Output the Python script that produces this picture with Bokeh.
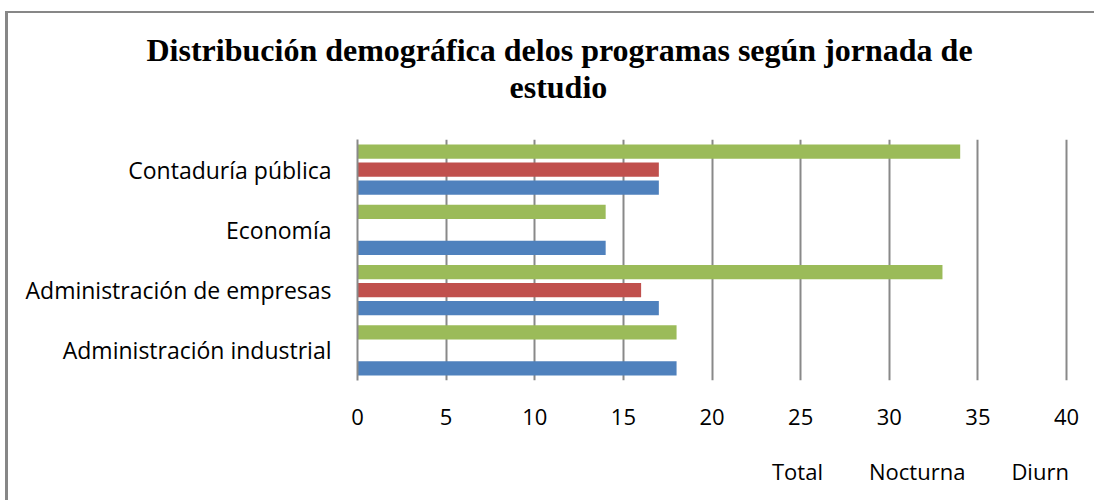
from bokeh.plotting import figure
from bokeh.layouts import column
from bokeh.models import ColumnDataSource, Legend, LegendItem, FactorRange, Range1d, FixedTicker, Title
from bokeh.transform import dodge
from bokeh.embed import file_html
from bokeh.resources import INLINE

# ---- data (bottom -> top) ----
programas = ["Administración industrial", "Administración de empresas", "Economía", "Contaduría pública"]
diurna = [18, 17, 14, 17]
nocturna = [0, 16, 0, 17]
total = [18, 33, 14, 34]
x_ticks = [0, 5, 10, 15, 20, 25, 30, 35, 40]
series_names = ["Total", "Nocturna", "Diurna"]

title_line1 = "Distribución demográfica delos programas según jornada de"
title_line2 = "estudio"

GREEN = "#9BBB59"
RED = "#C0504D"
BLUE = "#4F81BD"
GRID = "#898989"
series_colors = [GREEN, RED, BLUE]

src = ColumnDataSource(dict(programa=programas, diurna=diurna, nocturna=nocturna, total=total))

p = figure(
    width=1094, height=440,
    frame_width=711, frame_height=241,
    y_range=FactorRange(*programas, range_padding=0),
    x_range=Range1d(0, 40.11),
    output_backend="svg", toolbar_location=None, title_location=None,
    min_border_left=357, min_border_right=26, min_border_top=139, min_border_bottom=60,
)
p.outline_line_color = None
p.background_fill_color = "white"
p.border_fill_color = None
p.border_fill_alpha = 0

h = 0.235
p.hbar(y=dodge("programa", 0.3, range=p.y_range), left=0, right="total", height=h,
       source=src, fill_color=GREEN, line_color=None)
p.hbar(y=dodge("programa", 0.0, range=p.y_range), left=0, right="nocturna", height=h,
       source=src, fill_color=RED, line_color=None)
p.hbar(y=dodge("programa", -0.3, range=p.y_range), left=0, right="diurna", height=h,
       source=src, fill_color=BLUE, line_color=None)

# titles (two lines, placed over the whole chart area)
t2 = Title(text=title_line2, align="left", offset=152, standoff=70,
           text_font="Liberation Serif", text_font_size="32px", text_font_style="bold", text_color="black")
t1 = Title(text=title_line1, align="left", offset=-211, standoff=-72,
           text_font="Liberation Serif", text_font_size="32px", text_font_style="bold", text_color="black")
p.add_layout(t2, "above")
p.add_layout(t1, "above")

# x axis
xa = p.xaxis[0]
xa.ticker = FixedTicker(ticks=x_ticks)
xa.axis_line_color = None
xa.major_tick_line_color = None
xa.minor_tick_line_color = None
xa.major_label_standoff = 22
xa.major_label_text_font = "Open Sans"
xa.major_label_text_font_size = "22px"
xa.major_label_text_color = "black"

# y axis
ya = p.yaxis[0]
ya.axis_line_color = GRID
ya.axis_line_width = 2
ya.major_tick_line_color = None
ya.minor_tick_line_color = None
ya.major_label_standoff = 20
ya.major_label_text_font = "Open Sans"
ya.major_label_text_font_size = "23px"
ya.major_label_text_color = "black"

p.xgrid.grid_line_color = GRID
p.xgrid.grid_line_width = 2
p.ygrid.grid_line_color = None

# ---- legend strip below the chart ----
p2 = figure(
    width=1094, height=60,
    x_range=Range1d(0, 1), y_range=Range1d(0, 1),
    output_backend="svg", toolbar_location=None, title_location=None,
    x_axis_location=None, y_axis_location=None,
    min_border_left=0, min_border_right=0, min_border_top=0, min_border_bottom=0,
)
p2.outline_line_color = None
p2.background_fill_color = None
p2.border_fill_color = None
p2.xgrid.visible = False
p2.ygrid.visible = False

items = []
for name, col in zip(series_names, series_colors):
    empty = ColumnDataSource(dict(y=[], right=[]))
    rr = p2.hbar(y="y", left=0, right="right", height=0.2, source=empty,
                 fill_color=col, line_color=None)
    items.append(LegendItem(label=name, renderers=[rr]))

legend = Legend(
    items=items,
    orientation="horizontal",
    location=(393, 14),
    label_text_font="Open Sans",
    label_text_font_size="22px",
    label_text_color="black",
    glyph_width=14, glyph_height=14,
    label_standoff=8, spacing=24,
    padding=0, margin=0,
    border_line_color=None, background_fill_alpha=0,
)
p2.add_layout(legend, "center")

layout = column(p, p2, spacing=0,
                styles={"box-shadow": "inset 5px 11px 0 0 #ffffff, inset 8px 13px 0 0 #878787"})

open("out.html", "w").write(file_html(layout, INLINE))
